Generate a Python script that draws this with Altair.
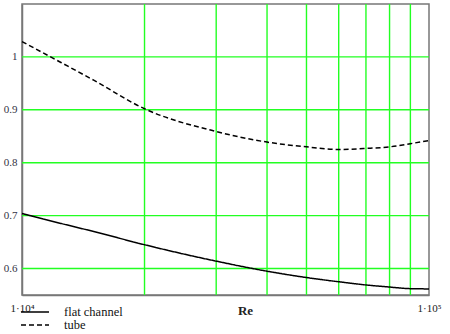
import altair as alt
import pandas as pd

re_vals = [10000, 12500, 15000, 20000, 30000, 40000, 50000, 60000, 70000, 80000, 90000, 100000]
flat = [0.704, 0.685, 0.670, 0.645, 0.614, 0.595, 0.583, 0.575, 0.569, 0.565, 0.562, 0.5615]
tube = [1.029, 0.989, 0.956, 0.902, 0.859, 0.839, 0.830, 0.825, 0.827, 0.830, 0.836, 0.842]
series_names = ["flat channel", "tube"]
grid_x = [20000, 30000, 40000, 50000, 60000, 70000, 80000, 90000]
grid_y = [0.6, 0.7, 0.8, 0.9, 1.0]
x_ticks = [10000, 100000]
y_ticks = [0.6, 0.7, 0.8, 0.9, 1.0]

df_flat = pd.DataFrame({"Re": re_vals, "value": flat, "series": series_names[0]})
df_tube = pd.DataFrame({"Re": re_vals, "value": tube, "series": series_names[1]})
gx = pd.DataFrame({"gx": grid_x})
gy = pd.DataFrame({"gy": grid_y})

xscale = alt.Scale(type="log", domain=[10000, 100000], nice=False)
yscale = alt.Scale(domain=[0.55, 1.1], nice=False, zero=False)
FONT = "Liberation Serif, Times New Roman, serif"

vgrid = alt.Chart(gx).mark_rule(color="#22ff22", strokeWidth=1.4).encode(
    x=alt.X("gx:Q", scale=xscale)
)
hgrid = alt.Chart(gy).mark_rule(color="#22ff22", strokeWidth=1.4).encode(
    y=alt.Y("gy:Q", scale=yscale)
)

xenc = alt.X("Re:Q", scale=xscale,
             axis=alt.Axis(values=x_ticks, grid=False, ticks=False, domain=True,
                           domainColor="#777777", domainWidth=1.5,
                           labelExpr="datum.value == 10000 ? '1·10⁴' : '1·10⁵'",
                           labelFont=FONT, labelFontSize=11, labelColor="#222222",
                           labelPadding=7, labelFlush=False,
                           title="Re", titleFont=FONT, titleFontSize=13, titleFontWeight="bold",
                           titleColor="#222222", titleX=223, titleY=19, titleBaseline="alphabetic"))
yenc = alt.Y("value:Q", scale=yscale,
             axis=alt.Axis(values=y_ticks, format=".1~f", grid=False, ticks=False, domain=True,
                           domainColor="#777777", domainWidth=1.5,
                           labelFont=FONT, labelFontSize=11, labelColor="#333344",
                           labelPadding=5, title=None))


def legend_at(y):
    return alt.Legend(orient="none", legendX=-2, legendY=y, title=None,
                      symbolType="stroke", symbolSize=784,
                      symbolStrokeColor="black", symbolStrokeWidth=1.5,
                      labelFont=FONT, labelFontSize=12.5, labelColor="#111111",
                      labelOffset=14, padding=0)


flat_line = alt.Chart(df_flat).mark_line(color="black", strokeWidth=1.5, interpolate="monotone").encode(
    x=xenc, y=yenc,
    strokeDash=alt.StrokeDash("series:N",
                              scale=alt.Scale(domain=[series_names[0]], range=[[1, 0]]),
                              legend=legend_at(293)),
)
tube_line = alt.Chart(df_tube).mark_line(color="black", strokeWidth=1.5, interpolate="monotone").encode(
    x=xenc, y=yenc,
    strokeDash=alt.StrokeDash("series:N",
                              scale=alt.Scale(domain=[series_names[1]], range=[[5, 3]]),
                              legend=legend_at(306)),
)

chart = alt.layer(vgrid, hgrid, flat_line, tube_line).resolve_scale(
    strokeDash="independent"
).properties(
    width=407, height=291,
    autosize=alt.AutoSizeParams(type="none"),
    padding={"left": 22, "top": 4, "right": 21, "bottom": 39},
    background="white",
).configure_view(stroke="#777777", strokeWidth=1.5)

chart.save("out.html", embed_options={"renderer": "svg", "actions": False})
